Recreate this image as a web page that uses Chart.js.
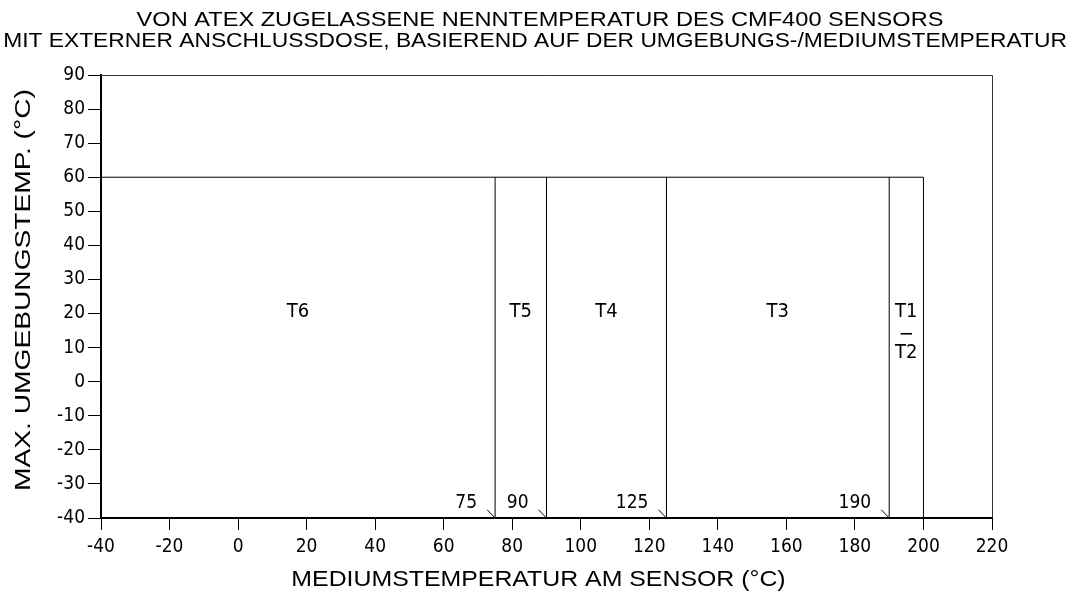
<!DOCTYPE html>
<html>
<head>
<meta charset="utf-8">
<script src="https://cdn.jsdelivr.net/npm/chart.js@4"></script>
<style>
  html, body { margin: 0; padding: 0; background: #fff; }
  #wrap { width: 1073px; height: 594px; }
</style>
</head>
<body>
<div id="wrap"><canvas id="myChart" width="1073" height="594"></canvas></div>
<script>
'use strict';

// chart data
let titleLines = [
  'VON ATEX ZUGELASSENE NENNTEMPERATUR DES CMF400 SENSORS',
  'MIT EXTERNER ANSCHLUSSDOSE, BASIEREND AUF DER UMGEBUNGS-/MEDIUMSTEMPERATUR'
];
let xTitle = 'MEDIUMSTEMPERATUR AM SENSOR (°C)';
let yTitle = 'MAX. UMGEBUNGSTEMP. (°C)';

let xMin = -40;
let xMax = 220;
let xStep = 20;
let yMin = -40;
let yMax = 90;
let yStep = 10;

let mediumStart = -40;
let boundaries = [75, 90, 125, 190, 200];
let boundaryLabels = ['75', '90', '125', '190', ''];
let maxAmbient = 60;
let zoneNames = [['T6'], ['T5'], ['T4'], ['T3'], ['T1', '−', 'T2']];
let zoneLabelY = 20;

let ctx = document.getElementById('myChart');
let cadFont = '"DejaVu Sans Condensed", "DejaVu Sans", sans-serif';
let tickFont = { family: cadFont, size: 19 };

// build line datasets from the arrays
let datasets = [];

datasets.push({
  data: [{ x: mediumStart, y: maxAmbient }, { x: boundaries[boundaries.length - 1], y: maxAmbient }]
});

for (let i = 0; i < boundaries.length; i++) {
  datasets.push({
    data: [{ x: boundaries[i], y: yMin }, { x: boundaries[i], y: maxAmbient }]
  });
  if (boundaryLabels[i] !== '') {
    // small pointer slash next to the boundary value
    datasets.push({
      data: [{ x: boundaries[i] - 2.3, y: yMin + 2.4 }, { x: boundaries[i], y: yMin }]
    });
  }
}

datasets.forEach(function (ds) {
  ds.showLine = true;
  ds.borderColor = '#000';
  ds.borderWidth = 1;
  ds.pointRadius = 0;
  ds.fill = false;
});

// wide helvetica-ish text: draw stretched horizontally
function wideText(c, text, x, y, size, stretch, rotate) {
  c.save();
  c.translate(x, y);
  if (rotate) c.rotate(-Math.PI / 2);
  c.scale(stretch, 1);
  c.font = size + 'px "Liberation Sans", Arial, sans-serif';
  c.textAlign = 'center';
  c.textBaseline = 'alphabetic';
  c.fillText(text, 0, 0);
  c.restore();
}

// frame, titles and text labels
let labelPlugin = {
  id: 'labelPlugin',
  afterDatasetsDraw: function (chart) {
    let c = chart.ctx;
    let xs = chart.scales.x;
    let ys = chart.scales.y;
    let area = chart.chartArea;

    c.save();
    c.strokeStyle = '#333';
    c.lineWidth = 1;
    c.beginPath();
    c.moveTo(area.left, area.top + 0.5);
    c.lineTo(area.right + 0.5, area.top + 0.5);
    c.lineTo(area.right + 0.5, area.bottom);
    c.stroke();

    c.fillStyle = '#000';

    // titles
    wideText(c, titleLines[0], 540, 26, 20, 1.18, false);
    wideText(c, titleLines[1], 535, 47, 20, 1.14, false);
    wideText(c, xTitle, (area.left + area.right) / 2 - 8, 586, 22, 1.13, false);
    wideText(c, yTitle, 30, 290, 22, 1.28, true);

    // boundary values
    c.font = '19px ' + cadFont;
    c.textAlign = 'right';
    c.textBaseline = 'alphabetic';
    for (let i = 0; i < boundaries.length; i++) {
      if (boundaryLabels[i] === '') continue;
      c.fillText(boundaryLabels[i], xs.getPixelForValue(boundaries[i]) - 18, ys.getPixelForValue(yMin) - 10);
    }

    // zone names (stacked names: the middle dash sits a little lower)
    c.font = '20px ' + cadFont;
    c.textAlign = 'center';
    c.textBaseline = 'middle';
    let prev = mediumStart;
    for (let i = 0; i < boundaries.length; i++) {
      let cx = xs.getPixelForValue((prev + boundaries[i]) / 2);
      let cy = ys.getPixelForValue(zoneLabelY);
      let lines = zoneNames[i];
      for (let j = 0; j < lines.length; j++) {
        let dy = (lines.length === 3 && j === 1) ? 3 : 0;
        c.fillText(lines[j], cx, cy - 2 + j * 20.5 + dy);
      }
      prev = boundaries[i];
    }
    c.restore();
  }
};

let myChartObj = {
  type: 'scatter',
  data: { datasets: datasets },
  options: {
    responsive: false,
    animation: false,
    layout: { padding: { left: 0, right: 81, top: 75, bottom: 0 } },
    plugins: {
      legend: { display: false },
      tooltip: { enabled: false },
      title: { display: false }
    },
    scales: {
      x: {
        type: 'linear',
        min: xMin,
        max: xMax,
        afterFit: function (scale) { scale.height = 76; },
        ticks: { stepSize: xStep, color: '#000', font: tickFont, padding: 6, maxRotation: 0 },
        grid: { display: true, drawOnChartArea: false, drawTicks: true, tickLength: 12, color: '#000', tickColor: '#000' },
        border: { display: true, color: '#000', width: 2 }
      },
      y: {
        type: 'linear',
        min: yMin,
        max: yMax,
        afterFit: function (scale) { scale.width = 101; },
        ticks: { stepSize: yStep, color: '#000', font: tickFont, padding: 3 },
        grid: { display: true, drawOnChartArea: false, drawTicks: true, tickLength: 13, color: '#000', tickColor: '#000' },
        border: { display: true, color: '#000', width: 2 }
      }
    }
  },
  plugins: [labelPlugin]
};

new Chart(ctx, myChartObj);
</script>
</body>
</html>
